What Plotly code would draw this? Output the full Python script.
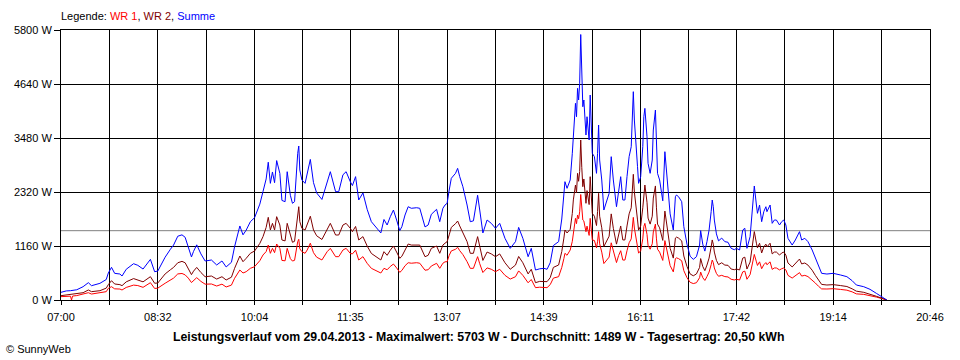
import plotly.graph_objects as go

# ---------------- data ----------------
times = [
    "07:00","07:05","07:09","07:10","07:11","07:15","07:21","07:26","07:29","07:37",
    "07:43","07:45","07:48","07:51","07:56","07:58","08:02","08:09","08:13","08:18",
    "08:25","08:29","08:32","08:39","08:44","08:47","08:51","08:55","08:58","09:01",
    "09:04","09:06","09:09","09:13","09:17","09:23","09:28","09:33","09:37","09:42",
    "09:45","09:50","09:53","09:56","10:00","10:04","10:09","10:12","10:15","10:17",
    "10:19","10:21","10:23","10:25","10:28","10:30","10:33","10:35","10:38","10:40",
    "10:42","10:45","10:46","10:47","10:49","10:52","10:54","10:57","11:00","11:03",
    "11:08","11:13","11:16","11:21","11:24","11:28","11:31","11:35","11:37","11:40",
    "11:43","11:47","11:51","11:55","12:00","12:04","12:07","12:10","12:13","12:16",
    "12:19","12:22","12:24","12:27","12:30","12:33","12:38","12:41","12:46","12:49",
    "12:52","12:57","13:00","13:03","13:05","13:07","13:09","13:11","13:15","13:17",
    "13:19","13:22","13:26","13:29","13:32","13:36","13:38","13:41","13:45","13:49",
    "13:53","13:57","14:02","14:07","14:12","14:15","14:19","14:24","14:27","14:31",
    "14:35","14:39","14:42","14:45","14:48","14:53","14:56","14:58","14:59","15:01",
    "15:04","15:06","15:07","15:09","15:10","15:11","15:12","15:13","15:14","15:15",
    "15:16","15:17","15:18","15:19","15:20","15:22","15:23","15:24","15:25","15:27",
    "15:29","15:30","15:31","15:32","15:34","15:36","15:39","15:41","15:43","15:45",
    "15:48","15:50","15:52","15:54","15:56","15:58","16:00","16:02","16:03","16:04",
    "16:05","16:07","16:08","16:09","16:11","16:13","16:14","16:15","16:17","16:18",
    "16:20","16:22","16:23","16:25","16:26","16:27","16:29","16:31","16:32","16:34",
    "16:36","16:37","16:39","16:42","16:44","16:45","16:47","16:50","16:52","16:55",
    "16:58","17:01","17:04","17:07","17:08","17:10","17:12","17:14","17:16","17:18",
    "17:19","17:20","17:21","17:23","17:25","17:28","17:31","17:34","17:37","17:40",
    "17:42","17:45","17:48","17:50","17:52","17:55","17:57","17:58","17:59","18:01",
    "18:02","18:04","18:06","18:08","18:10","18:11","18:14","18:16","18:18","18:20",
    "18:23","18:25","18:27","18:29","18:31","18:35","18:38","18:42","18:44","18:47",
    "18:50","18:54","18:57","19:00","19:03","19:08","19:14","19:21","19:27","19:32",
    "19:36","19:43","19:49","19:55","20:00","20:05",
]

summe = [
    165,195,200,205,205,220,286,372,307,358,
    440,580,702,573,558,515,660,780,745,665,
    873,608,622,920,1090,1180,1370,1400,1347,1132,
    925,1045,1185,990,838,859,752,838,710,810,
    1145,1590,1400,1500,1682,1768,2060,2330,2600,2960,
    2506,2750,2520,2995,2721,2139,2112,2756,2250,2077,
    2112,3150,3308,2792,2578,2506,2685,3020,2521,2300,
    2160,2540,2756,2327,2327,2690,2756,2540,2458,2650,
    2148,2300,1948,1682,1560,1440,1730,1611,1790,1933,
    1718,1490,1575,1826,2004,1970,1982,1970,1570,1611,
    1840,1948,1682,1970,2040,2077,2363,2614,2721,2828,
    2649,2434,2040,1682,1700,2250,1933,1440,1718,1647,
    1540,1647,1325,1110,1253,1560,1325,930,1110,644,
    670,680,660,800,1170,1253,1740,2219,2542,2399,
    2578,3151,3580,4225,3937,4547,4296,4655,5703,4800,
    4152,4296,3866,3544,3937,3437,4403,3652,3151,3079,
    2721,3151,3759,3007,2578,1933,2148,2291,3079,2578,
    2004,2363,2649,2148,2148,2649,3079,3293,4010,4475,
    3866,3293,2864,2506,2649,3293,3937,4117,3508,2935,
    2721,3007,3652,4081,3293,2721,2578,2219,2130,3186,
    2649,2363,1850,1504,2219,2255,2219,2112,1575,1200,
    940,873,931,1180,1490,1200,1050,1253,1500,1900,
    2148,2004,1718,1420,1270,1330,1253,1240,1110,1080,
    1110,1074,1504,1540,1110,1361,1933,2219,2449,2040,
    1862,2040,1682,1897,2004,1897,2040,1647,1718,1718,
    1611,1682,1718,1611,1325,1181,1289,1468,1289,1325,
    1253,1074,895,716,573,558,573,537,501,415,
    322,286,229,143,72,0,
]

wr2 = [
    93,107,112,112,113,125,157,215,179,200,
    255,330,415,344,330,308,390,460,430,390,
    501,360,365,560,650,700,800,830,800,660,
    545,620,700,590,500,515,450,500,430,490,
    680,945,823,895,1003,1052,1217,1361,1560,1776,
    1504,1647,1504,1790,1611,1289,1270,1647,1361,1240,
    1260,1897,2004,1682,1540,1504,1611,1800,1504,1380,
    1300,1504,1647,1396,1396,1611,1647,1540,1468,1580,
    1289,1361,1160,1000,930,860,1038,960,1070,1160,
    1030,895,940,1090,1203,1180,1181,1180,930,960,
    1110,1160,1003,1180,1220,1253,1400,1560,1640,1697,
    1590,1460,1253,1003,1003,1361,1160,850,1030,990,
    931,990,800,660,750,935,800,560,660,372,
    400,394,394,480,700,752,1040,1330,1504,1440,
    1518,1860,2150,2470,2300,2721,2550,2760,3437,2850,
    2434,2600,2291,2077,2350,2050,2649,2219,1862,1800,
    1600,1900,2291,1800,1550,1150,1290,1370,1850,1540,
    1200,1410,1590,1290,1290,1590,1850,1980,2400,2700,
    2320,1980,1720,1500,1590,1980,2360,2470,2100,1760,
    1630,1800,2190,2450,1980,1630,1550,1330,1280,1910,
    1590,1420,1110,900,1330,1350,1330,1270,945,720,
    560,520,560,700,890,720,630,750,900,1140,
    1290,1200,1030,850,760,800,750,745,665,650,
    665,645,900,920,665,815,1160,1330,1470,1220,
    1120,1220,1010,1140,1200,1140,1220,990,1030,1030,
    965,1010,1030,965,795,710,775,880,775,795,
    750,640,530,420,335,322,330,310,290,240,
    190,165,130,80,40,0,
]

wr1 = [
    72,86,82,0,85,95,122,157,128,157,
    179,251,286,240,235,215,270,320,310,272,
    372,248,255,360,440,470,560,570,540,470,
    375,420,480,400,340,344,300,340,280,320,
    466,644,580,608,680,716,845,967,1040,1181,
    1003,1110,1017,1203,1110,850,842,1110,890,837,
    852,1253,1304,1100,1038,1003,1074,1220,1017,920,
    860,1038,1110,931,931,1074,1110,1000,990,1070,
    859,931,788,680,630,580,680,650,720,773,
    690,594,635,736,801,790,801,790,640,650,
    730,788,680,790,820,823,960,1054,1090,1132,
    1060,975,823,680,680,931,780,590,690,660,
    608,660,530,450,500,625,530,370,440,265,
    275,265,265,330,470,501,700,890,1003,960,
    1074,1260,1430,1754,1640,1826,1746,1895,2266,1950,
    1718,1696,1575,1467,1587,1387,1754,1433,1289,1279,
    1121,1251,1468,1207,1028,783,858,921,1229,1038,
    804,953,1059,858,858,1059,1229,1313,1610,1775,
    1546,1313,1144,1006,1059,1313,1577,1647,1408,1175,
    1091,1207,1462,1631,1313,1091,1028,889,850,1276,
    1059,943,740,604,889,905,889,842,630,480,
    380,353,371,480,600,480,420,503,600,760,
    858,804,688,570,510,530,503,495,445,430,
    445,429,604,620,445,546,773,889,979,820,
    742,820,672,757,804,757,820,657,688,688,
    646,672,688,646,530,471,514,588,514,530,
    503,434,365,296,238,236,243,227,211,175,
    132,121,99,63,32,0,
]

tick_labels = ["07:00", "08:32", "10:04", "11:35", "13:07",
               "14:39", "16:11", "17:42", "19:14", "20:46"]
y_ticks = [0, 1160, 2320, 3480, 4640, 5800]
y_unit = "W"
average_w = 1489
series_names = ["WR 1", "WR 2", "Summe"]
series_colors = ["#FF0000", "#800000", "#0000FF"]
title_text = ("Leistungsverlauf vom 29.04.2013 - Maximalwert: 5703 W - "
              "Durchschnitt: 1489 W - Tagesertrag: 20,50 kWh")
credit_text = "© SunnyWeb"

assert len(times) == len(summe) == len(wr1) == len(wr2), (len(times), len(summe), len(wr1), len(wr2))

# ---------------- helpers ----------------
def to_minutes(s):
    h, m = s.split(":")
    return (int(h) - 7) * 60 + int(m)

x = [to_minutes(t) for t in times]
label_pos = [to_minutes(t) for t in tick_labels]
tickvals, ticktext = [], []
for i, p in enumerate(label_pos):
    tickvals.append(p)
    ticktext.append(tick_labels[i])
    if i < len(label_pos) - 1:
        tickvals.append((p + label_pos[i + 1]) / 2)
        ticktext.append("")

FONT = "Liberation Sans, Arial, sans-serif"

fig = go.Figure()
for name, vals, col in zip(series_names, [wr1, wr2, summe], series_colors):
    fig.add_trace(go.Scatter(x=x, y=vals, mode="lines", name=name,
                             line=dict(color=col, width=1),
                             showlegend=False, hoverinfo="skip"))

fig.add_shape(type="line", xref="paper", x0=0, x1=1, yref="y",
              y0=average_w, y1=average_w,
              line=dict(color="#808080", width=1), layer="below")

legend_html = ("Legende: "
               + ", ".join(f"<span style='color:{c}'>{n}</span>"
                           for n, c in zip(series_names, series_colors)))

fig.add_annotation(text=legend_html, xref="paper", yref="paper",
                   x=0, y=1, xanchor="left", yanchor="middle",
                   yshift=14, xshift=-2, showarrow=False,
                   font=dict(family=FONT, size=11, color="#000000"))
fig.add_annotation(text=f"<b>{title_text}</b>", xref="paper", yref="paper",
                   x=0.481, y=0, xanchor="center", yanchor="middle",
                   yshift=-37, showarrow=False,
                   font=dict(family=FONT, size=12.3, color="#000000"))
fig.add_annotation(text=credit_text, xref="paper", yref="paper",
                   x=-57 / 869, y=0, xanchor="left", yanchor="middle",
                   yshift=-49, showarrow=False,
                   font=dict(family=FONT, size=11, color="#000000"))

fig.update_layout(
    width=960, height=360,
    margin=dict(l=61, r=30, t=30, b=60, pad=0),
    paper_bgcolor="#FFFFFF", plot_bgcolor="#FFFFFF",
    font=dict(family=FONT, size=11, color="#000000"),
    xaxis=dict(range=[label_pos[0], label_pos[-1]], tickmode="array",
               tickvals=tickvals, ticktext=ticktext,
               showgrid=True, gridcolor="#000000", gridwidth=1,
               showline=True, linecolor="#000000", linewidth=1, mirror=True,
               ticks="outside", ticklen=4, tickcolor="#000000", tickwidth=1,
               ticklabelstandoff=3,
               zeroline=False, fixedrange=True,
               tickfont=dict(family=FONT, size=11, color="#000000")),
    yaxis=dict(range=[y_ticks[0], y_ticks[-1]], tickmode="array",
               tickvals=y_ticks, ticktext=[f"{v} {y_unit}" for v in y_ticks],
               showgrid=True, gridcolor="#000000", gridwidth=1,
               showline=True, linecolor="#000000", linewidth=1, mirror=True,
               ticks="outside", ticklen=6, tickcolor="#000000", tickwidth=1,
               zeroline=False, fixedrange=True,
               tickfont=dict(family=FONT, size=11, color="#000000")),
)

fig.write_html("out.html", config={"displayModeBar": False},
               post_script="document.body.style.margin='0px';"
                           "document.body.style.overflow='hidden';")
